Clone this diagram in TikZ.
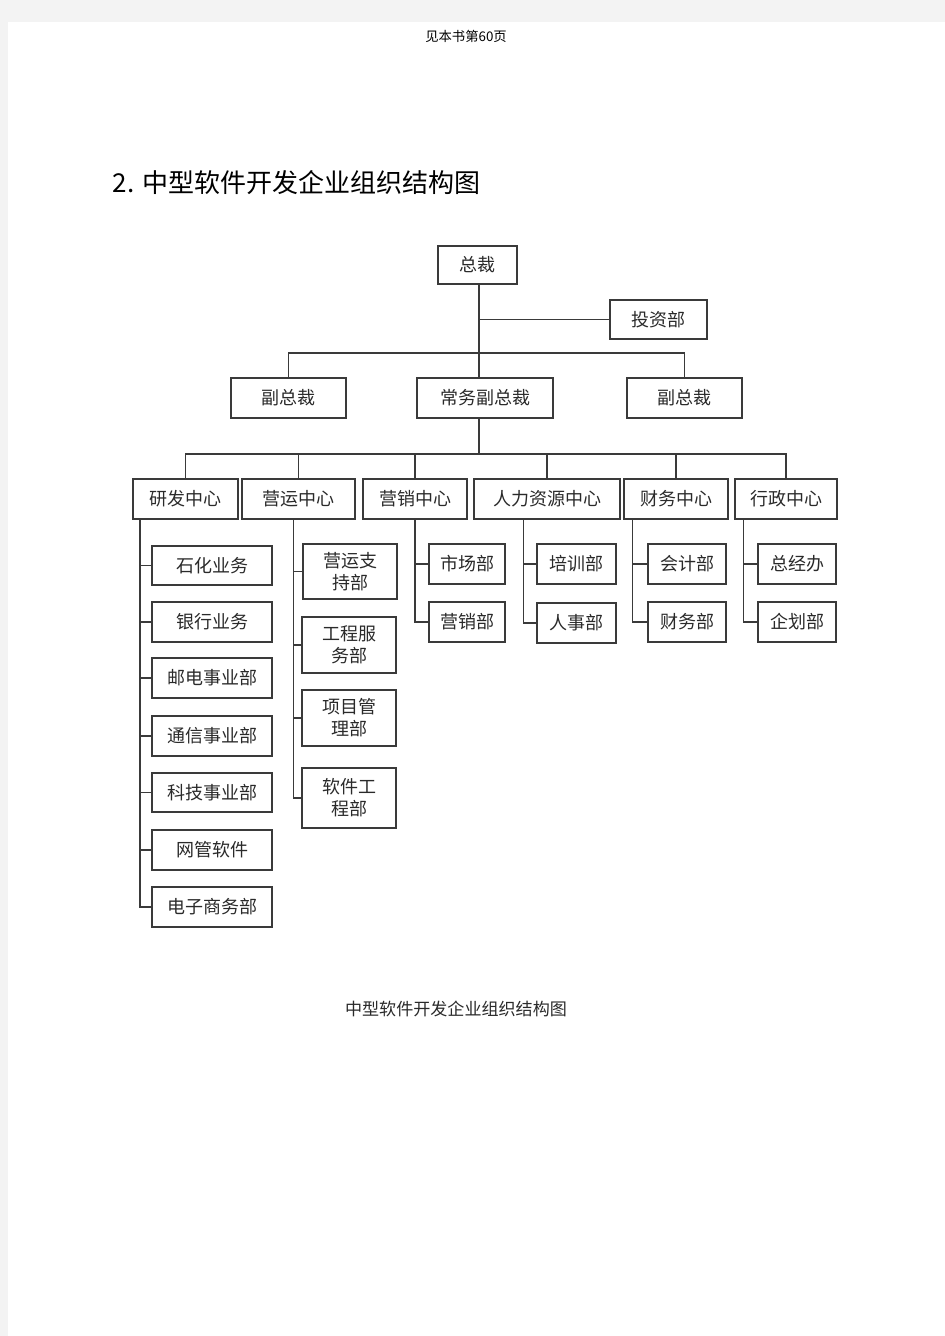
\documentclass[tikz,border=0pt]{standalone}
\usepackage{fontspec}
\newfontfamily\cjk{Noto Sans CJK SC}
\definecolor{pagegray}{HTML}{F3F3F3}
\definecolor{linec}{HTML}{3A3A3A}
\definecolor{textc}{HTML}{2A2A2A}
\newcommand\orgbox[6]{\node[box, minimum width={(#4-#2)*0.75pt}, minimum height={(#5-#3)*0.75pt}] (#1) at ({(#2+#4)/2},{(#3+#5)/2}) {#6};}
\begin{document}
\begin{tikzpicture}[x=0.75pt,y=-0.75pt,
  box/.style={draw=linec, line width=1.4pt, inner sep=0pt, font=\cjk\fontsize{13.5}{16.5}\selectfont, text=textc, align=center},
  conn/.style={draw=linec, line width=1.4pt}]
\fill[pagegray] (0,0) rectangle (945,1336);
\fill[white] (8,22) rectangle (945,1336);
\useasboundingbox (0,0) rectangle (945,1336);

\node[font=\cjk\fontsize{10}{12}\selectfont] (hdr) at (466,36) {见本书第60页};
\node[anchor=west, font=\cjk\fontsize{19.5}{22}\selectfont] (title) at (108,183) {2. 中型软件开发企业组织结构图};
\node[font=\cjk\fontsize{12.8}{15}\selectfont, text=textc] (cap) at (456,1009) {中型软件开发企业组织结构图};

% top levels
\orgbox{zc}{438}{246}{517}{284}{总裁}
\orgbox{tz}{610}{300}{707}{339}{投资部}
\orgbox{fzl}{231}{378}{346}{418}{副总裁}
\orgbox{cw}{417}{378}{553}{418}{常务副总裁}
\orgbox{fzr}{627}{378}{742}{418}{副总裁}

% centers
\orgbox{yf}{133}{479}{238}{519}{研发中心}
\orgbox{yy}{242}{479}{355}{519}{营运中心}
\orgbox{yx}{363}{479}{467}{519}{营销中心}
\orgbox{rl}{474}{479}{620}{519}{人力资源中心}
\orgbox{cwz}{624}{479}{728}{519}{财务中心}
\orgbox{xz}{735}{479}{837}{519}{行政中心}

% R&D children
\orgbox{sh}{152}{546}{272}{585}{石化业务}
\orgbox{yh}{152}{602}{272}{642}{银行业务}
\orgbox{yd}{152}{658}{272}{698}{邮电事业部}
\orgbox{tx}{152}{716}{272}{756}{通信事业部}
\orgbox{kj}{152}{773}{272}{812}{科技事业部}
\orgbox{wg}{152}{830}{272}{870}{网管软件}
\orgbox{dz}{152}{887}{272}{927}{电子商务部}

% operations children
\orgbox{yyzc}{303}{544}{397}{599}{营运支\\持部}
\orgbox{gcfw}{302}{617}{396}{673}{工程服\\务部}
\orgbox{xmgl}{302}{690}{396}{746}{项目管\\理部}
\orgbox{rjgc}{302}{768}{396}{828}{软件工\\程部}

% other children
\orgbox{scb}{429}{544}{505}{584}{市场部}
\orgbox{yxb}{429}{602}{505}{642}{营销部}
\orgbox{pxb}{537}{544}{616}{584}{培训部}
\orgbox{rsb}{537}{603}{616}{643}{人事部}
\orgbox{kjb}{648}{544}{726}{584}{会计部}
\orgbox{cwb}{648}{602}{726}{642}{财务部}
\orgbox{zjb}{758}{544}{836}{584}{总经办}
\orgbox{qhb}{758}{602}{836}{642}{企划部}

% connectors top
\coordinate (t1) at (479,353);
\coordinate (t2) at (479,454);
\draw[conn] (zc.south -| t1) -- (cw.north -| t1);
\draw[conn] (t1 |- tz.west) -- (tz.west);
\draw[conn] (fzl.north) |- (t1) -| (fzr.north);
\draw[conn] (cw.south -| t2) -- (t2);
\draw[conn] (yf.north) |- (t2) -| (xz.north);
\foreach \n in {yy,yx,rl,cwz} \draw[conn] (\n.north) -- (\n.north |- t2);

% branch trunks
\coordinate (b1) at (140,519);
\coordinate (b2) at (293.5,519);
\coordinate (b3) at (415,519);
\coordinate (b4) at (523.5,519);
\coordinate (b5) at (632.5,519);
\coordinate (b6) at (743.5,519);

\draw[conn] (b1) |- (dz.west);
\foreach \n in {sh,yh,yd,tx,kj,wg} \draw[conn] (\n.west -| b1) -- (\n.west);
\draw[conn] (b2) |- (rjgc.west);
\foreach \n in {yyzc,gcfw,xmgl} \draw[conn] (\n.west -| b2) -- (\n.west);
\draw[conn] (b3) |- (yxb.west);
\draw[conn] (scb.west -| b3) -- (scb.west);
\draw[conn] (b4) |- (rsb.west);
\draw[conn] (pxb.west -| b4) -- (pxb.west);
\draw[conn] (b5) |- (cwb.west);
\draw[conn] (kjb.west -| b5) -- (kjb.west);
\draw[conn] (b6) |- (qhb.west);
\draw[conn] (zjb.west -| b6) -- (zjb.west);
\end{tikzpicture}
\end{document}
